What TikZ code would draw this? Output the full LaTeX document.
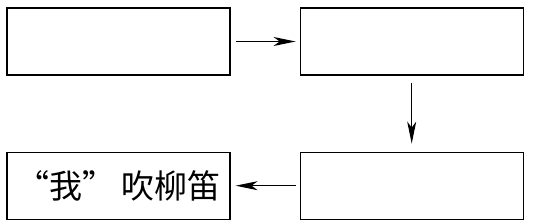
\documentclass[tikz,border=0pt]{standalone}
\usepackage{fontspec}
\newfontfamily\cjk{Noto Sans CJK SC}
\usetikzlibrary{arrows.meta,positioning}

\begin{document}
\begin{tikzpicture}[
  x=1pt, y=-1pt,
  node distance=76pt and 69pt,
  box/.style={draw, line width=1.2pt, minimum width=223pt, minimum height=67pt, inner sep=0pt, font=\cjk\fontsize{33pt}{36pt}\selectfont},
  arr/.style={-{Stealth[length=22pt, width=9pt, inset=6pt]}, line width=1.3pt}
]
\useasboundingbox (0,0) rectangle (535,224);
\node[box] (film) at (118.5,41.5) {};
\node[box, right=of film] (cut) {};
\node[box, below=of cut] (twist) {};
\node[box, left=of twist] (blow) {“我”\,吹柳笛};

\draw[arr, shorten <=5pt, shorten >=4pt] (film) -- (cut);
\draw[arr, shorten <=7pt, shorten >=8pt] (cut) -- (twist);
\draw[arr, shorten <=4pt, shorten >=5pt] (twist) -- (blow);
\end{tikzpicture}
\end{document}
